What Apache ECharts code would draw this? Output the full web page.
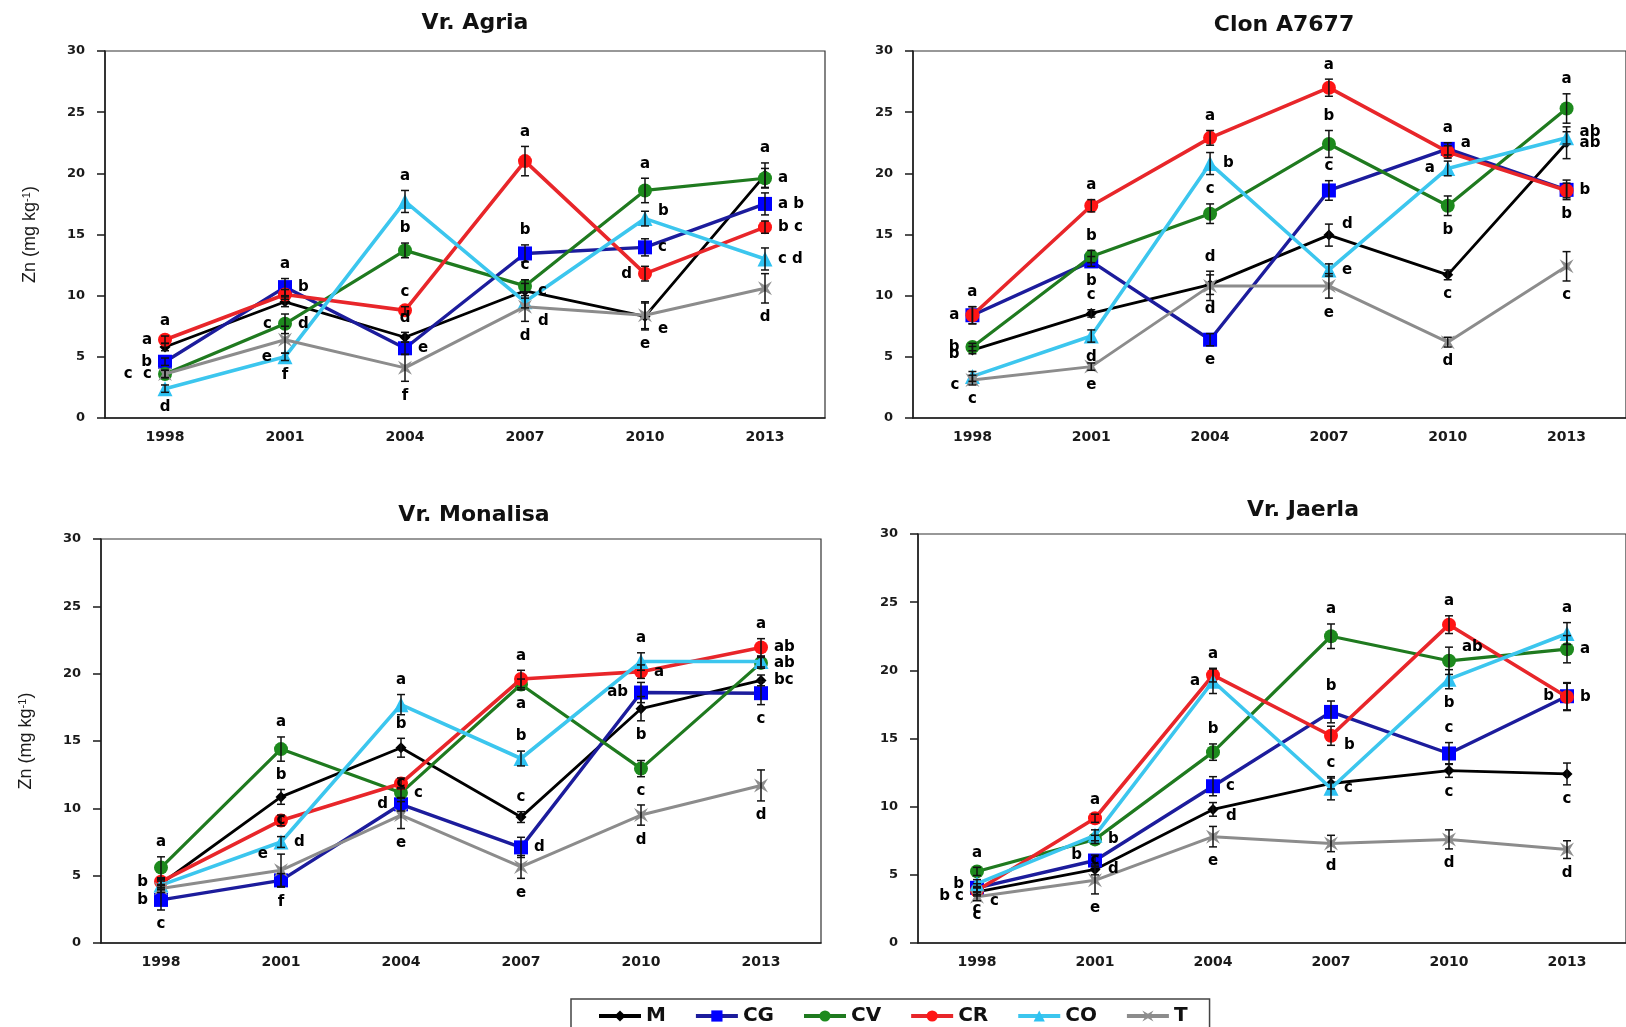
<!DOCTYPE html>
<html>
<head>
<meta charset="utf-8">
<title>Zn</title>
<script src="https://cdn.jsdelivr.net/npm/echarts@6/dist/echarts.min.js"></script>
<style>
  html, body { margin: 0; padding: 0; background: #fff; }
  #chart { width: 1626px; height: 1027px; }
</style>
</head>
<body>
<div id="chart"></div>
<script>
// ---- data (rows follow seriesNames: M, CG, CV, CR, CO, T) ----
const years = ['1998', '2001', '2004', '2007', '2010', '2013'];
const seriesNames = ['M', 'CG', 'CV', 'CR', 'CO', 'T'];
const panelTitles = ['Vr. Agria', 'Clon A7677', 'Vr. Monalisa', 'Vr. Jaerla'];
const yMin = 0, yMax = 30, yStep = 5;

const agriaZn = [
    [5.8, 9.5, 6.6, 10.4, 8.3, 19.85],
    [4.6, 10.7, 5.7, 13.45, 13.95, 17.5],
    [3.6, 7.7, 13.7, 10.8, 18.6, 19.6],
    [6.4, 10.1, 8.8, 21.0, 11.8, 15.6],
    [2.4, 5.0, 17.7, 9.5, 16.3, 13.0],
    [3.6, 6.4, 4.1, 9.1, 8.4, 10.6]
];
const agriaErr = [
    [0.3, 0.4, 0.4, 0.6, 1.1, 1.0],
    [0.3, 0.7, 0.5, 0.7, 0.7, 0.9],
    [0.3, 0.8, 0.6, 0.5, 1.0, 0.8],
    [0.3, 0.4, 0.3, 1.2, 0.6, 0.5],
    [0.3, 0.3, 0.9, 0.5, 0.6, 0.9],
    [0.3, 1.1, 1.1, 1.2, 1.1, 1.2]
];
const clonZn = [
    [5.55, 8.55, 10.9, 14.95, 11.7, 22.5],
    [8.4, 12.8, 6.4, 18.6, 22.0, 18.65],
    [5.8, 13.2, 16.7, 22.4, 17.35, 25.3],
    [8.4, 17.35, 22.9, 27.0, 21.75, 18.6],
    [3.4, 6.7, 20.8, 12.1, 20.4, 22.9],
    [3.1, 4.2, 10.8, 10.8, 6.2, 12.4]
];
const clonErr = [
    [0.3, 0.3, 0.8, 0.9, 0.4, 1.3],
    [0.7, 0.4, 0.5, 0.8, 0.5, 0.8],
    [0.3, 0.5, 0.8, 1.1, 0.8, 1.2],
    [0.7, 0.5, 0.6, 0.7, 0.5, 0.6],
    [0.4, 0.5, 0.9, 0.5, 0.6, 0.5],
    [0.4, 0.3, 1.2, 1.0, 0.4, 1.2]
];
const monaZn = [
    [4.4, 10.85, 14.5, 9.35, 17.4, 19.5],
    [3.2, 4.65, 10.3, 7.1, 18.6, 18.55],
    [5.6, 14.4, 11.15, 19.2, 12.95, 20.8],
    [4.55, 9.1, 11.85, 19.6, 20.15, 21.95],
    [4.3, 7.5, 17.7, 13.7, 20.9, 20.9],
    [4.05, 5.4, 9.5, 5.65, 9.5, 11.7]
];
const monaErr = [
    [0.3, 0.55, 0.7, 0.4, 0.9, 0.4],
    [0.75, 0.5, 0.5, 0.75, 0.75, 0.85],
    [0.8, 0.9, 0.4, 0.4, 0.6, 0.4],
    [0.3, 0.4, 0.4, 0.65, 0.5, 0.65],
    [0.3, 0.4, 0.75, 0.55, 0.65, 0.4],
    [0.3, 1.2, 1.0, 0.85, 0.75, 1.15]
];
const jaerlaZn = [
    [3.75, 5.4, 9.8, 11.7, 12.65, 12.4],
    [4.05, 6.05, 11.5, 16.95, 13.9, 18.1],
    [5.25, 7.6, 14.0, 22.5, 20.7, 21.55],
    [3.85, 9.15, 19.65, 15.2, 23.35, 18.05],
    [4.35, 7.9, 19.2, 11.35, 19.35, 22.7],
    [3.4, 4.6, 7.8, 7.3, 7.6, 6.85]
];
const jaerlaErr = [
    [0.3, 0.4, 0.5, 0.4, 0.5, 0.8],
    [0.3, 0.4, 0.7, 0.8, 0.8, 1.0],
    [0.3, 0.3, 0.6, 0.9, 1.0, 1.0],
    [0.3, 0.3, 0.5, 0.7, 0.65, 1.0],
    [0.3, 0.4, 0.9, 0.85, 0.7, 0.8],
    [0.3, 1.0, 0.75, 0.6, 0.7, 0.65]
];

// significance letters: [series index, year index, text]
const agriaLetters = [
    [3, 0, 'a'], [3, 0, 'a'], [1, 0, 'b'], [5, 0, 'c  c'], [4, 0, 'd'],
    [1, 1, 'a'], [1, 1, 'b'], [2, 1, 'c'], [2, 1, 'd'], [4, 1, 'e'], [4, 1, 'f'],
    [4, 2, 'a'], [2, 2, 'b'], [3, 2, 'c'], [0, 2, 'd'], [1, 2, 'e'], [5, 2, 'f'],
    [3, 3, 'a'], [1, 3, 'b'], [2, 3, 'c'], [0, 3, 'c'], [5, 3, 'd'], [5, 3, 'd'],
    [2, 4, 'a'], [4, 4, 'b'], [1, 4, 'c'], [3, 4, 'd'], [5, 4, 'e'], [0, 4, 'e'],
    [0, 5, 'a'], [2, 5, 'a'], [1, 5, 'a b'], [3, 5, 'b c'], [4, 5, 'c d'], [5, 5, 'd']
];
const clonLetters = [
    [3, 0, 'a'], [1, 0, 'a'], [2, 0, 'b'], [0, 0, 'b'], [5, 0, 'c'], [5, 0, 'c'],
    [3, 1, 'a'], [2, 1, 'b'], [1, 1, 'b'], [0, 1, 'c'], [4, 1, 'd'], [5, 1, 'e'],
    [3, 2, 'a'], [4, 2, 'b'], [2, 2, 'c'], [5, 2, 'd'], [0, 2, 'd'], [1, 2, 'e'],
    [3, 3, 'a'], [2, 3, 'b'], [1, 3, 'c'], [0, 3, 'd'], [4, 3, 'e'], [5, 3, 'e'],
    [1, 4, 'a'], [1, 4, 'a'], [4, 4, 'a'], [2, 4, 'b'], [0, 4, 'c'], [5, 4, 'd'],
    [2, 5, 'a'], [4, 5, 'ab'], [0, 5, 'ab'], [3, 5, 'b'], [1, 5, 'b'], [5, 5, 'c']
];
const monaLetters = [
    [2, 0, 'a'], [3, 0, 'b'], [1, 0, 'b'], [1, 0, 'c'],
    [2, 1, 'a'], [0, 1, 'b'], [3, 1, 'c'], [4, 1, 'd'], [5, 1, 'e'], [1, 1, 'f'],
    [4, 2, 'a'], [0, 2, 'b'], [3, 2, 'c'], [2, 2, 'c'], [1, 2, 'd'], [5, 2, 'e'],
    [3, 3, 'a'], [2, 3, 'a'], [4, 3, 'b'], [0, 3, 'c'], [1, 3, 'd'], [5, 3, 'e'],
    [4, 4, 'a'], [3, 4, 'a'], [1, 4, 'ab'], [0, 4, 'b'], [2, 4, 'c'], [5, 4, 'd'],
    [3, 5, 'a'], [3, 5, 'ab'], [2, 5, 'ab'], [0, 5, 'bc'], [1, 5, 'c'], [5, 5, 'd']
];
const jaerlaLetters = [
    [2, 0, 'a'], [4, 0, 'b'], [0, 0, 'b c'], [3, 0, 'c'], [5, 0, 'c'], [5, 0, 'c'],
    [3, 1, 'a'], [1, 1, 'b'], [2, 1, 'b'], [1, 1, 'c'], [0, 1, 'd'], [5, 1, 'e'],
    [3, 2, 'a'], [4, 2, 'a'], [2, 2, 'b'], [1, 2, 'c'], [0, 2, 'd'], [5, 2, 'e'],
    [2, 3, 'a'], [1, 3, 'b'], [3, 3, 'b'], [0, 3, 'c'], [4, 3, 'c'], [5, 3, 'd'],
    [3, 4, 'a'], [2, 4, 'ab'], [4, 4, 'b'], [1, 4, 'c'], [0, 4, 'c'], [5, 4, 'd'],
    [4, 5, 'a'], [2, 5, 'a'], [1, 5, 'b'], [3, 5, 'b'], [0, 5, 'c'], [5, 5, 'd']
];

// where each letter sits relative to its point (same order as the letters)
const agriaSides = [
    'top', 'left', 'left', 'left', 'bottom',
    'top', 'right', 'left', 'right', 'left', 'bottom',
    'top', 'top', 'top', 'top', 'right', 'bottom',
    'top', 'top', 'top', 'right', 'rightlo', 'bottom',
    'top', 'righthi', 'right', 'left', 'rightlo', 'bottom',
    'top', 'right', 'right', 'right', 'right', 'bottom'
];
const clonSides = [
    'top', 'left', 'left', 'leftlo', 'leftlo', 'bottom',
    'top', 'top', 'bottom', 'top', 'bottom', 'bottom',
    'top', 'right', 'top', 'top', 'bottom', 'bottom',
    'top', 'top', 'top', 'righthi', 'right', 'bottom',
    'top', 'righthi', 'left', 'bottom', 'bottom', 'bottom',
    'top', 'righthi', 'right', 'right', 'bottom', 'bottom'
];
const monaSides = [
    'top', 'left', 'left', 'bottom',
    'top', 'top', 'inside', 'right', 'lefthi', 'bottom',
    'top', 'top', 'inside', 'right', 'left', 'bottom',
    'top', 'bottom', 'top', 'top', 'right', 'bottom',
    'top', 'right', 'left', 'bottom', 'bottom', 'bottom',
    'top', 'right', 'right', 'right', 'bottom', 'bottom'
];
const jaerlaSides = [
    'top', 'left', 'leftlo', 'bottom', 'rightlo', 'bottom',
    'top', 'lefthi', 'right', 'inside', 'right', 'bottom',
    'top', 'left', 'top', 'right', 'rightlo', 'bottom',
    'top', 'top', 'rightlo', 'top', 'right', 'bottom',
    'top', 'righthi', 'bottom', 'top', 'bottom', 'bottom',
    'top', 'right', 'left', 'right', 'bottom', 'bottom'
];

const panelValues = [agriaZn, clonZn, monaZn, jaerlaZn];
const panelErrors = [agriaErr, clonErr, monaErr, jaerlaErr];
const panelLetters = [agriaLetters, clonLetters, monaLetters, jaerlaLetters];
const panelSides = [agriaSides, clonSides, monaSides, jaerlaSides];

// ---- layout & style ----
const grids = [
    { left: 105, top: 51, width: 720, height: 367 },
    { left: 913, top: 51, width: 722, height: 367 },
    { left: 101, top: 539, width: 720, height: 404 },
    { left: 918, top: 534, width: 720, height: 409 }
];
const titlePos = [[475, 23], [1284, 25], [474, 515], [1303, 510]];

const lineColors = ['#000000', '#1c1c9c', '#1f7a1f', '#e8262a', '#3cc6ee', '#8c8c8c'];
const markColors = ['#000000', '#0000ff', '#1d8a1d', '#ff1515', '#2fc2f2', '#8e8e8e'];
const symbols = ['diamond', 'rect', 'circle', 'circle', 'triangle',
    'path://M0,0L5,3L10,0L7,5L10,10L5,7L0,10L3,5Z'];
const symbolSizes = [11, 14, 14, 14, 15, 14];
const lineWidths = [2.8, 3.4, 3.2, 3.6, 3.6, 3];

const sideMap = {
    top: { anchor: 1, position: 'top', distance: 2 },
    bottom: { anchor: -1, position: 'bottom', distance: 2 },
    left: { anchor: 0, position: 'left', distance: 8 },
    right: { anchor: 0, position: 'right', distance: 8 },
    lefthi: { anchor: 1, position: 'left', distance: 8 },
    leftlo: { anchor: -1, position: 'left', distance: 8 },
    righthi: { anchor: 1, position: 'right', distance: 8 },
    rightlo: { anchor: -1, position: 'right', distance: 8 },
    inside: { anchor: 0, position: 'inside', distance: 0 }
};

const axisColor = '#1a1a1a';
const boldFont = 'DejaVu Sans';

function renderErr(params, api) {
    const x = api.value(0);
    const lo = api.coord([x, api.value(1)]);
    const hi = api.coord([x, api.value(2)]);
    const w = 4;
    const style = { stroke: '#111', lineWidth: 1.5 };
    return {
        type: 'group',
        children: [
            { type: 'line', shape: { x1: hi[0], y1: hi[1], x2: lo[0], y2: lo[1] }, style: style },
            { type: 'line', shape: { x1: hi[0] - w, y1: hi[1], x2: hi[0] + w, y2: hi[1] }, style: style },
            { type: 'line', shape: { x1: lo[0] - w, y1: lo[1], x2: lo[0] + w, y2: lo[1] }, style: style }
        ]
    };
}

let xAxes = [], yAxes = [], series = [], graphics = [];
grids.forEach(function (g, p) {
    xAxes.push({
        type: 'category', gridIndex: p, data: years,
        axisLine: { lineStyle: { color: axisColor, width: 1.5 } },
        axisTick: { length: 5, lineStyle: { color: axisColor, width: 1.5 } },
        axisLabel: { margin: 12, fontFamily: boldFont, fontWeight: 'bold', fontSize: 14, color: axisColor }
    });
    let y = {
        type: 'value', gridIndex: p, min: yMin, max: yMax, interval: yStep,
        splitLine: { show: false },
        axisLine: { show: true, lineStyle: { color: axisColor, width: 1.5 } },
        axisTick: { show: true, length: 8, lineStyle: { color: axisColor, width: 1.5 } },
        axisLabel: { margin: 20, fontFamily: boldFont, fontWeight: 'bold', fontSize: 13, color: axisColor }
    };
    if (p % 2 === 0) {
        y.name = 'Zn (mg kg{s|-1})';
        y.nameLocation = 'middle';
        y.nameRotate = 90;
        y.nameGap = 66;
        y.nameTextStyle = {
            fontFamily: 'Liberation Sans', fontSize: 18, color: axisColor,
            rich: { s: { fontSize: 11, verticalAlign: 'top', lineHeight: 13 } }
        };
    }
    yAxes.push(y);

    const vals = panelValues[p];
    const errs = panelErrors[p];

    seriesNames.forEach(function (name, s) {
        series.push({
            type: 'line', name: name, xAxisIndex: p, yAxisIndex: p,
            data: vals[s],
            symbol: symbols[s], symbolSize: symbolSizes[s],
            lineStyle: { color: lineColors[s], width: lineWidths[s] },
            itemStyle: { color: markColors[s] },
            z: 2 + s * 0.01,
            silent: true
        });
    });

    // error bars
    let errData = [];
    seriesNames.forEach(function (name, s) {
        vals[s].forEach(function (v, i) {
            errData.push([i, v - errs[s][i], v + errs[s][i]]);
        });
    });
    series.push({
        type: 'custom', xAxisIndex: p, yAxisIndex: p,
        renderItem: renderErr, data: errData,
        encode: { x: 0, y: [1, 2] }, z: 4, silent: true
    });

    // letters
    const sides = panelSides[p];
    let letterData = panelLetters[p].map(function (l, k) {
        const sd = sideMap[sides[k]];
        const v = vals[l[0]][l[1]] + sd.anchor * errs[l[0]][l[1]];
        return {
            value: [l[1], v],
            label: { show: true, formatter: l[2], position: sd.position, distance: sd.distance }
        };
    });
    series.push({
        type: 'scatter', xAxisIndex: p, yAxisIndex: p,
        data: letterData, symbolSize: 10,
        itemStyle: { color: 'rgba(0,0,0,0)' },
        label: { fontFamily: boldFont, fontWeight: 'bold', fontSize: 15, color: '#000', opacity: 1 },
        z: 6, silent: true
    });

    graphics.push({
        type: 'text', x: titlePos[p][0], y: titlePos[p][1],
        style: {
            text: panelTitles[p], align: 'center', verticalAlign: 'middle',
            textAlign: 'center', textVerticalAlign: 'middle',
            font: 'bold 22px "DejaVu Sans"', fill: '#111'
        }
    });
});

const chart = echarts.init(document.getElementById('chart'));
chart.setOption({
    animation: false,
    backgroundColor: '#fff',
    grid: grids.map(function (g) {
        return Object.assign({ show: true, borderColor: '#333', borderWidth: 1.2, backgroundColor: '#fff' }, g);
    }),
    xAxis: xAxes,
    yAxis: yAxes,
    graphic: graphics,
    legend: {
        data: seriesNames,
        left: 571, top: 999,
        itemWidth: 42, itemHeight: 14, itemGap: 28,
        lineStyle: { width: 4 },
        borderColor: '#444', borderWidth: 1.5, borderRadius: 0,
        padding: [7, 22, 14, 26],
        textStyle: { fontFamily: boldFont, fontWeight: 'bold', fontSize: 20, color: '#111' }
    },
    series: series
});
</script>
</body>
</html>
